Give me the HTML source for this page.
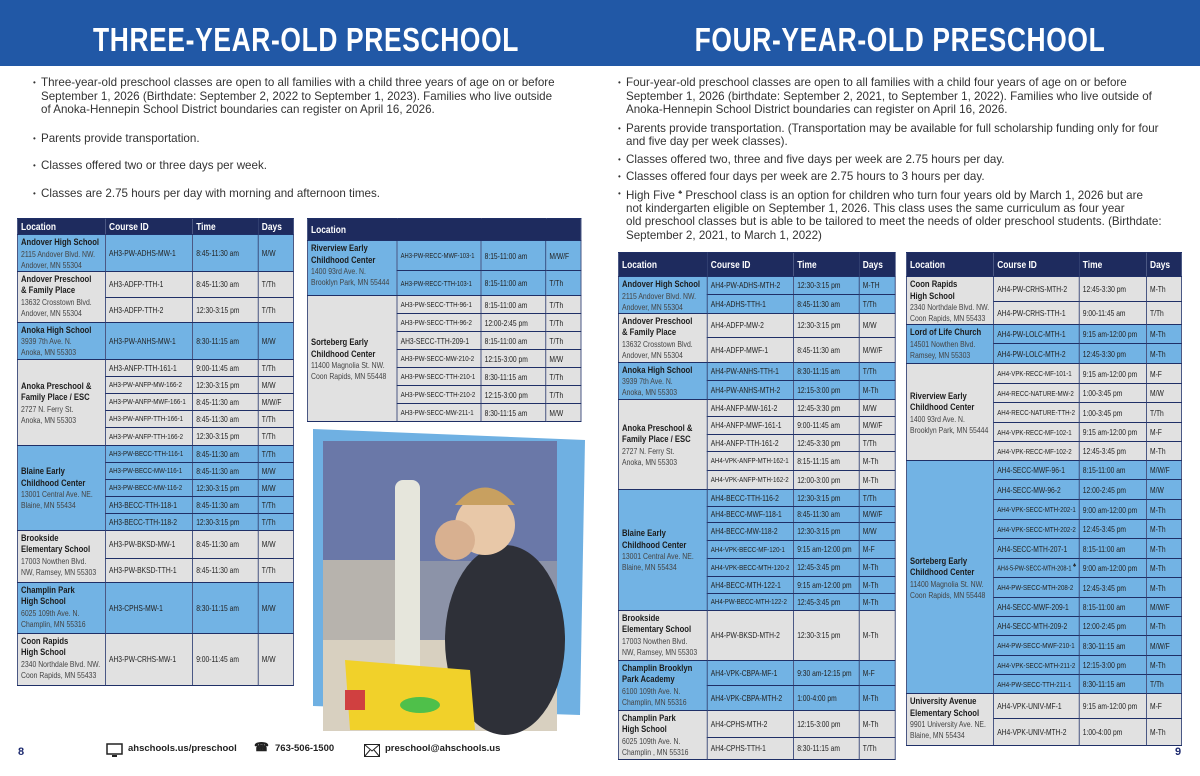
<!DOCTYPE html>
<html><head><meta charset="utf-8">
<style>
*{margin:0;padding:0;box-sizing:border-box}
body{width:1200px;height:776px;background:#fff;position:relative;overflow:hidden;font-family:"Liberation Sans",sans-serif;color:#222}
.bar{position:absolute;left:0;top:0;width:1200px;height:66px;background:#2158a6}
.title{position:absolute;top:22px;color:#fff;font-family:"Liberation Sans",sans-serif;font-weight:bold;font-size:33px;letter-spacing:0.8px;line-height:36px;white-space:nowrap;text-align:center;transform:scaleX(0.8);transform-origin:center}
.txt{position:absolute;font-size:11.6px;line-height:13.5px;color:#333;white-space:nowrap}
.txt .b{position:relative;padding-left:8px}
.txt .b:before{content:"•";position:absolute;left:0;font-size:8px}
table{position:absolute;border-collapse:collapse;table-layout:fixed;font-family:"Liberation Sans",sans-serif;font-size:8.4px;color:#222;transform:scaleX(0.8);transform-origin:left top}
td,th{border:1.5px solid #1f2f66;padding:0 3px 0 4px;vertical-align:middle;white-space:nowrap;overflow:hidden}
th{background:#1e2b5e;color:#fff;text-align:left;font-size:10.5px;font-weight:bold}
.u td{background:#72b3e4}
.g td{background:#e1e1e1}
td.l{vertical-align:top;padding-top:2px;line-height:11px;font-size:8.6px;color:#444}
td.l b{font-size:9.6px;color:#1c1c1c;display:block;line-height:11.5px}
td.lm{vertical-align:middle}
td.s{font-size:7.7px}
.foot{position:absolute;top:743px;font-size:9.5px;font-weight:bold;color:#222}
</style></head><body>
<div class="bar"></div>
<div class="title" style="left:36px;width:540px">THREE-YEAR-OLD PRESCHOOL</div>
<div class="title" style="left:630px;width:540px">FOUR-YEAR-OLD PRESCHOOL</div>

<div class="txt" style="left:33px;top:76px">
<div class="b">Three-year-old preschool classes are open to all families with a child three years of age on or before<br>September 1, 2026 (Birthdate: September 2, 2022 to September 1, 2023). Families who live outside<br>of Anoka-Hennepin School District boundaries can register on April 16, 2026.</div>
<div class="b" style="margin-top:15px">Parents provide transportation.</div>
<div class="b" style="margin-top:14px">Classes offered two or three days per week.</div>
<div class="b" style="margin-top:14px">Classes are 2.75 hours per day with morning and afternoon times.</div>
</div>

<div class="txt" style="left:618px;top:76px">
<div class="b">Four-year-old preschool classes are open to all families with a child four years of age on or before<br>September 1, 2026 (birthdate: September 2, 2021, to September 1, 2022). Families who live outside of<br>Anoka-Hennepin School District boundaries can register on April 16, 2026.</div>
<div class="b" style="margin-top:5px">Parents provide transportation. (Transportation may be available for full scholarship funding only for four<br>and five day per week classes).</div>
<div class="b" style="margin-top:4px">Classes offered two, three and five days per week are 2.75 hours per day.</div>
<div class="b" style="margin-top:4px">Classes offered four days per week are 2.75 hours to 3 hours per day.</div>
<div class="b" style="margin-top:3px">High Five <sup style="font-size:6px">♣</sup> Preschool class is an option for children who turn four years old by March 1, 2026 but are<br>not kindergarten eligible on September 1, 2026.  This class uses the same curriculum as four year<br>old preschool classes but is able to be tailored to meet the needs of older preschool students. (Birthdate:<br>September 2, 2021, to March 1, 2022)</div>
</div>

<!-- Table 1 -->
<table style="left:17px;top:218px;width:345px">
<colgroup><col style="width:110px"><col style="width:109px"><col style="width:82px"><col style="width:44px"></colgroup>
<tr style="height:16px"><th>Location</th><th>Course ID</th><th>Time</th><th>Days</th></tr>
<tr class="u" style="height:35px"><td class="l"><b>Andover High School</b>2115 Andover Blvd. NW.<br>Andover, MN 55304</td><td>AH3-PW-ADHS-MW-1</td><td>8:45-11:30 am</td><td>M/W</td></tr>
<tr class="g" style="height:26px"><td class="l" rowspan="2"><b>Andover Preschool<br>&amp; Family Place</b>13632 Crosstown Blvd.<br>Andover, MN 55304</td><td>AH3-ADFP-TTH-1</td><td>8:45-11:30 am</td><td>T/Th</td></tr>
<tr class="g" style="height:25px"><td>AH3-ADFP-TTH-2</td><td>12:30-3:15 pm</td><td>T/Th</td></tr>
<tr class="u" style="height:37px"><td class="l"><b>Anoka High School</b>3939 7th Ave. N.<br>Anoka, MN 55303</td><td>AH3-PW-ANHS-MW-1</td><td>8:30-11:15 am</td><td>M/W</td></tr>
<tr class="g" style="height:17px"><td class="l lm" rowspan="5"><b>Anoka Preschool &amp;<br>Family Place / ESC</b>2727 N. Ferry St.<br>Anoka, MN 55303</td><td>AH3-ANFP-TTH-161-1</td><td>9:00-11:45 am</td><td>T/Th</td></tr>
<tr class="g" style="height:17px"><td class="s">AH3-PW-ANFP-MW-166-2</td><td>12:30-3:15 pm</td><td>M/W</td></tr>
<tr class="g" style="height:17px"><td class="s">AH3-PW-ANFP-MWF-166-1</td><td>8:45-11:30 am</td><td>M/W/F</td></tr>
<tr class="g" style="height:17px"><td class="s">AH3-PW-ANFP-TTH-166-1</td><td>8:45-11:30 am</td><td>T/Th</td></tr>
<tr class="g" style="height:18px"><td class="s">AH3-PW-ANFP-TTH-166-2</td><td>12:30-3:15 pm</td><td>T/Th</td></tr>
<tr class="u" style="height:17px"><td class="l lm" rowspan="5"><b>Blaine Early<br>Childhood Center</b>13001 Central Ave. NE.<br>Blaine, MN 55434</td><td class="s">AH3-PW-BECC-TTH-116-1</td><td>8:45-11:30 am</td><td>T/Th</td></tr>
<tr class="u" style="height:17px"><td class="s">AH3-PW-BECC-MW-116-1</td><td>8:45-11:30 am</td><td>M/W</td></tr>
<tr class="u" style="height:17px"><td class="s">AH3-PW-BECC-MW-116-2</td><td>12:30-3:15 pm</td><td>M/W</td></tr>
<tr class="u" style="height:17px"><td>AH3-BECC-TTH-118-1</td><td>8:45-11:30 am</td><td>T/Th</td></tr>
<tr class="u" style="height:17px"><td>AH3-BECC-TTH-118-2</td><td>12:30-3:15 pm</td><td>T/Th</td></tr>
<tr class="g" style="height:28px"><td class="l" rowspan="2"><b>Brookside<br>Elementary School</b>17003 Nowthen Blvd.<br>NW, Ramsey, MN 55303</td><td>AH3-PW-BKSD-MW-1</td><td>8:45-11:30 am</td><td>M/W</td></tr>
<tr class="g" style="height:24px"><td>AH3-PW-BKSD-TTH-1</td><td>8:45-11:30 am</td><td>T/Th</td></tr>
<tr class="u" style="height:51px"><td class="l"><b>Champlin Park<br>High School</b>6025 109th Ave. N.<br>Champlin, MN 55316</td><td>AH3-CPHS-MW-1</td><td>8:30-11:15 am</td><td>M/W</td></tr>
<tr class="g" style="height:52px"><td class="l"><b>Coon Rapids<br>High School</b>2340 Northdale Blvd. NW.<br>Coon Rapids, MN 55433</td><td>AH3-PW-CRHS-MW-1</td><td>9:00-11:45 am</td><td>M/W</td></tr>
</table>

<!-- Table 2 -->
<table style="left:307px;top:218px;width:342px">
<colgroup><col style="width:112px"><col style="width:105px"><col style="width:81px"><col style="width:44px"></colgroup>
<tr style="height:22px"><th colspan="4">Location</th></tr>
<tr class="u" style="height:30px"><td class="l" rowspan="2"><b>Riverview Early<br>Childhood Center</b>1400 93rd Ave. N.<br>Brooklyn Park, MN 55444</td><td class="s" style="font-size:7.3px">AH3-PW-RECC-MWF-103-1</td><td>8:15-11:00 am</td><td>M/W/F</td></tr>
<tr class="u" style="height:25px"><td class="s" style="font-size:7.3px">AH3-PW-RECC-TTH-103-1</td><td>8:15-11:00 am</td><td>T/Th</td></tr>
<tr class="g" style="height:18px"><td class="l lm" rowspan="7"><b>Sorteberg Early<br>Childhood Center</b>11400 Magnolia St. NW.<br>Coon Rapids, MN 55448</td><td class="s">AH3-PW-SECC-TTH-96-1</td><td>8:15-11:00 am</td><td>T/Th</td></tr>
<tr class="g" style="height:18px"><td class="s">AH3-PW-SECC-TTH-96-2</td><td>12:00-2:45 pm</td><td>T/Th</td></tr>
<tr class="g" style="height:18px"><td>AH3-SECC-TTH-209-1</td><td>8:15-11:00 am</td><td>T/Th</td></tr>
<tr class="g" style="height:18px"><td class="s">AH3-PW-SECC-MW-210-2</td><td>12:15-3:00 pm</td><td>M/W</td></tr>
<tr class="g" style="height:18px"><td class="s">AH3-PW-SECC-TTH-210-1</td><td>8:30-11:15 am</td><td>T/Th</td></tr>
<tr class="g" style="height:18px"><td class="s">AH3-PW-SECC-TTH-210-2</td><td>12:15-3:00 pm</td><td>T/Th</td></tr>
<tr class="g" style="height:18px"><td class="s">AH3-PW-SECC-MW-211-1</td><td>8:30-11:15 am</td><td>M/W</td></tr>
</table>

<!-- Photo -->
<svg style="position:absolute;left:0;top:0" width="1200" height="776">
<polygon points="313,429 585,440 580,715 313,706" fill="#6fb0e2"/>
<rect x="323" y="441" width="234" height="290" fill="#8c93a8"/>
<rect x="323" y="441" width="234" height="120" fill="#6a78a8"/>
<rect x="323" y="560" width="90" height="110" fill="#b7b3ad"/>
<rect x="323" y="640" width="234" height="91" fill="#d8d0c0"/>
<ellipse cx="505" cy="640" rx="60" ry="95" fill="#2e3038"/>
<circle cx="485" cy="525" r="30" fill="#e8c8a8"/>
<path d="M455 505 Q485 470 515 505 Z" fill="#c8a060"/>
<circle cx="455" cy="540" r="20" fill="#d8b090"/>
<rect x="395" y="480" width="25" height="200" fill="#e6e6dc" rx="8"/>
<polygon points="345,660 470,670 475,730 350,730" fill="#f1d12a"/>
<rect x="345" y="690" width="20" height="20" fill="#d04040"/>
<ellipse cx="420" cy="705" rx="20" ry="8" fill="#4fc04a"/>
</svg>

<!-- Table 3 -->
<table style="left:618px;top:252px;width:346px">
<colgroup><col style="width:111px"><col style="width:108px"><col style="width:82px"><col style="width:45px"></colgroup>
<tr style="height:24px"><th>Location</th><th>Course ID</th><th>Time</th><th>Days</th></tr>
<tr class="u" style="height:17px"><td class="l" rowspan="2"><b>Andover High School</b>2115 Andover Blvd. NW.<br>Andover, MN 55304</td><td>AH4-PW-ADHS-MTH-2</td><td>12:30-3:15 pm</td><td>M-TH</td></tr>
<tr class="u" style="height:18px"><td>AH4-ADHS-TTH-1</td><td>8:45-11:30 am</td><td>T/Th</td></tr>
<tr class="g" style="height:24px"><td class="l" rowspan="2"><b>Andover Preschool<br>&amp; Family Place</b>13632 Crosstown Blvd.<br>Andover, MN 55304</td><td>AH4-ADFP-MW-2</td><td>12:30-3:15 pm</td><td>M/W</td></tr>
<tr class="g" style="height:25px"><td>AH4-ADFP-MWF-1</td><td>8:45-11:30 am</td><td>M/W/F</td></tr>
<tr class="u" style="height:18px"><td class="l" rowspan="2"><b>Anoka High School</b>3939 7th Ave. N.<br>Anoka, MN 55303</td><td>AH4-PW-ANHS-TTH-1</td><td>8:30-11:15 am</td><td>T/Th</td></tr>
<tr class="u" style="height:19px"><td>AH4-PW-ANHS-MTH-2</td><td>12:15-3:00 pm</td><td>M-Th</td></tr>
<tr class="g" style="height:17px"><td class="l lm" rowspan="5"><b>Anoka Preschool &amp;<br>Family Place / ESC</b>2727 N. Ferry St.<br>Anoka, MN 55303</td><td>AH4-ANFP-MW-161-2</td><td>12:45-3:30 pm</td><td>M/W</td></tr>
<tr class="g" style="height:18px"><td>AH4-ANFP-MWF-161-1</td><td>9:00-11:45 am</td><td>M/W/F</td></tr>
<tr class="g" style="height:17px"><td>AH4-ANFP-TTH-161-2</td><td>12:45-3:30 pm</td><td>T/Th</td></tr>
<tr class="g" style="height:19px"><td class="s">AH4-VPK-ANFP-MTH-162-1</td><td>8:15-11:15 am</td><td>M-Th</td></tr>
<tr class="g" style="height:19px"><td class="s">AH4-VPK-ANFP-MTH-162-2</td><td>12:00-3:00 pm</td><td>M-Th</td></tr>
<tr class="u" style="height:17px"><td class="l lm" rowspan="7"><b>Blaine Early<br>Childhood Center</b>13001 Central Ave. NE.<br>Blaine, MN 55434</td><td>AH4-BECC-TTH-116-2</td><td>12:30-3:15 pm</td><td>T/Th</td></tr>
<tr class="u" style="height:16px"><td>AH4-BECC-MWF-118-1</td><td>8:45-11:30 am</td><td>M/W/F</td></tr>
<tr class="u" style="height:18px"><td>AH4-BECC-MW-118-2</td><td>12:30-3:15 pm</td><td>M/W</td></tr>
<tr class="u" style="height:18px"><td class="s">AH4-VPK-BECC-MF-120-1</td><td>9:15 am-12:00 pm</td><td>M-F</td></tr>
<tr class="u" style="height:18px"><td class="s">AH4-VPK-BECC-MTH-120-2</td><td>12:45-3:45 pm</td><td>M-Th</td></tr>
<tr class="u" style="height:17px"><td>AH4-BECC-MTH-122-1</td><td>9:15 am-12:00 pm</td><td>M-Th</td></tr>
<tr class="u" style="height:17px"><td class="s">AH4-PW-BECC-MTH-122-2</td><td>12:45-3:45 pm</td><td>M-Th</td></tr>
<tr class="g" style="height:50px"><td class="l"><b>Brookside<br>Elementary School</b>17003 Nowthen Blvd.<br>NW, Ramsey, MN 55303</td><td>AH4-PW-BKSD-MTH-2</td><td>12:30-3:15 pm</td><td>M-Th</td></tr>
<tr class="u" style="height:25px"><td class="l" rowspan="2"><b>Champlin Brooklyn<br>Park Academy</b>6100 109th Ave. N.<br>Champlin, MN 55316</td><td>AH4-VPK-CBPA-MF-1</td><td>9:30 am-12:15 pm</td><td>M-F</td></tr>
<tr class="u" style="height:25px"><td>AH4-VPK-CBPA-MTH-2</td><td>1:00-4:00 pm</td><td>M-Th</td></tr>
<tr class="g" style="height:27px"><td class="l" rowspan="2"><b>Champlin Park<br>High School</b>6025 109th Ave. N.<br>Champlin , MN 55316</td><td>AH4-CPHS-MTH-2</td><td>12:15-3:00 pm</td><td>M-Th</td></tr>
<tr class="g" style="height:22px"><td>AH4-CPHS-TTH-1</td><td>8:30-11:15 am</td><td>T/Th</td></tr>
</table>

<!-- Table 4 -->
<table style="left:906px;top:252px;width:344px">
<colgroup><col style="width:109px"><col style="width:107px"><col style="width:84px"><col style="width:44px"></colgroup>
<tr style="height:24px"><th>Location</th><th>Course ID</th><th>Time</th><th>Days</th></tr>
<tr class="g" style="height:24px"><td class="l" rowspan="2"><b>Coon Rapids<br>High School</b>2340 Northdale Blvd. NW.<br>Coon Rapids, MN 55433</td><td>AH4-PW-CRHS-MTH-2</td><td>12:45-3:30 pm</td><td>M-Th</td></tr>
<tr class="g" style="height:23px"><td>AH4-PW-CRHS-TTH-1</td><td>9:00-11:45 am</td><td>T/Th</td></tr>
<tr class="u" style="height:19px"><td class="l" rowspan="2"><b>Lord of Life Church</b>14501 Nowthen Blvd.<br>Ramsey, MN 55303</td><td>AH4-PW-LOLC-MTH-1</td><td>9:15 am-12:00 pm</td><td>M-Th</td></tr>
<tr class="u" style="height:20px"><td>AH4-PW-LOLC-MTH-2</td><td>12:45-3:30 pm</td><td>M-Th</td></tr>
<tr class="g" style="height:20px"><td class="l lm" rowspan="5"><b>Riverview Early<br>Childhood Center</b>1400 93rd Ave. N.<br>Brooklyn Park, MN 55444</td><td class="s">AH4-VPK-RECC-MF-101-1</td><td>9:15 am-12:00 pm</td><td>M-F</td></tr>
<tr class="g" style="height:19px"><td class="s">AH4-RECC-NATURE-MW-2</td><td>1:00-3:45 pm</td><td>M/W</td></tr>
<tr class="g" style="height:20px"><td class="s">AH4-RECC-NATURE-TTH-2</td><td>1:00-3:45 pm</td><td>T/Th</td></tr>
<tr class="g" style="height:19px"><td class="s">AH4-VPK-RECC-MF-102-1</td><td>9:15 am-12:00 pm</td><td>M-F</td></tr>
<tr class="g" style="height:19px"><td class="s">AH4-VPK-RECC-MF-102-2</td><td>12:45-3:45 pm</td><td>M-Th</td></tr>
<tr class="u" style="height:19px"><td class="l lm" rowspan="12"><b>Sorteberg Early<br>Childhood Center</b>11400 Magnolia St. NW.<br>Coon Rapids, MN 55448</td><td>AH4-SECC-MWF-96-1</td><td>8:15-11:00 am</td><td>M/W/F</td></tr>
<tr class="u" style="height:20px"><td>AH4-SECC-MW-96-2</td><td>12:00-2:45 pm</td><td>M/W</td></tr>
<tr class="u" style="height:20px"><td class="s">AH4-VPK-SECC-MTH-202-1</td><td>9:00 am-12:00 pm</td><td>M-Th</td></tr>
<tr class="u" style="height:19px"><td class="s">AH4-VPK-SECC-MTH-202-2</td><td>12:45-3:45 pm</td><td>M-Th</td></tr>
<tr class="u" style="height:20px"><td>AH4-SECC-MTH-207-1</td><td>8:15-11:00 am</td><td>M-Th</td></tr>
<tr class="u" style="height:19px"><td style="font-size:7px">AH4-5-PW-SECC-MTH-208-1 <sup>♣</sup></td><td>9:00 am-12:00 pm</td><td>M-Th</td></tr>
<tr class="u" style="height:20px"><td class="s">AH4-PW-SECC-MTH-208-2</td><td>12:45-3:45 pm</td><td>M-Th</td></tr>
<tr class="u" style="height:19px"><td>AH4-SECC-MWF-209-1</td><td>8:15-11:00 am</td><td>M/W/F</td></tr>
<tr class="u" style="height:19px"><td>AH4-SECC-MTH-209-2</td><td>12:00-2:45 pm</td><td>M-Th</td></tr>
<tr class="u" style="height:20px"><td class="s">AH4-PW-SECC-MWF-210-1</td><td>8:30-11:15 am</td><td>M/W/F</td></tr>
<tr class="u" style="height:19px"><td class="s">AH4-VPK-SECC-MTH-211-2</td><td>12:15-3:00 pm</td><td>M-Th</td></tr>
<tr class="u" style="height:19px"><td class="s">AH4-PW-SECC-TTH-211-1</td><td>8:30-11:15 am</td><td>T/Th</td></tr>
<tr class="g" style="height:25px"><td class="l" rowspan="2"><b>University Avenue<br>Elementary School</b>9901 University Ave. NE.<br>Blaine, MN 55434</td><td>AH4-VPK-UNIV-MF-1</td><td>9:15 am-12:00 pm</td><td>M-F</td></tr>
<tr class="g" style="height:27px"><td>AH4-VPK-UNIV-MTH-2</td><td>1:00-4:00 pm</td><td>M-Th</td></tr>
</table>

<!-- Footer -->
<div style="position:absolute;left:18px;top:746px;font-size:11px;font-weight:bold;color:#1e2b70">8</div>
<div style="position:absolute;left:1175px;top:746px;font-size:11px;font-weight:bold;color:#1e2b70">9</div>
<svg style="position:absolute;left:106px;top:743px" width="18" height="16"><rect x="1" y="1" width="15" height="10" fill="none" stroke="#222" stroke-width="1.5"/><rect x="6" y="12" width="5" height="2" fill="#222"/></svg>
<div class="foot" style="left:128px">ahschools.us/preschool</div>
<div class="foot" style="left:254px;font-size:12px;top:740px">☎</div>
<div class="foot" style="left:275px">763-506-1500</div>
<svg style="position:absolute;left:364px;top:744px" width="16" height="13"><rect x="0.5" y="0.5" width="15" height="12" fill="none" stroke="#222"/><path d="M0.5 0.5 L8 7 L15.5 0.5 M0.5 12.5 L6 6 M15.5 12.5 L10 6" fill="none" stroke="#222"/></svg>
<div class="foot" style="left:385px">preschool@ahschools.us</div>
</body></html>
